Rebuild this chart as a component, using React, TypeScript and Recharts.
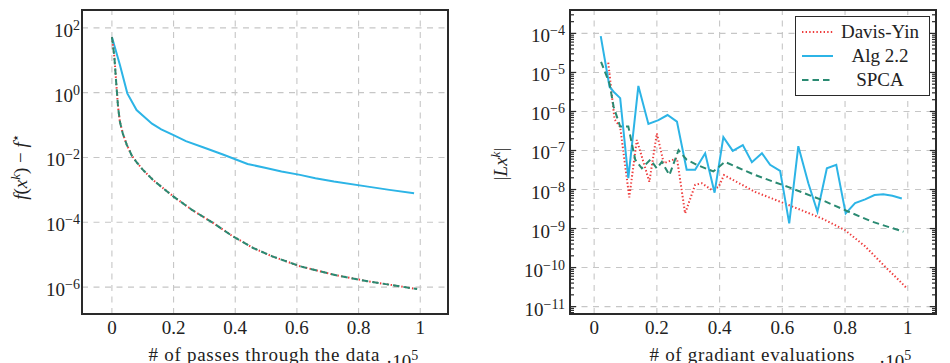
import { LineChart, Line, XAxis, YAxis, ReferenceLine, Legend } from 'recharts';

const FONT = '"Liberation Serif", "Times New Roman", serif';
const INK = '#222';
const RED = '#ee3b3b';
const CYAN = '#2cb4e6';
const TEAL = '#2a8a72';
const GRID = '#c6c6c6';
const FRAME = '#2a2a2a';
const DOTS = '1.4 2.2';
const DASHES = '6.5 4';

// objective gap f(x^k) - f* vs passes through the data (x in units of 1e5)
const passesAlg = [0, 0.026, 0.05, 0.08, 0.13, 0.16, 0.2, 0.24, 0.3, 0.36, 0.44, 0.5, 0.55, 0.61, 0.66, 0.72, 0.83, 0.9, 0.98];
const gapAlg = [52, 7.1, 0.95, 0.29, 0.11, 0.074, 0.049, 0.032, 0.02, 0.0123, 0.0063, 0.0047, 0.0037, 0.0029, 0.0023, 0.0018, 0.00126, 0.001, 0.00079];
const passesDY = [0, 0.008, 0.014, 0.02, 0.026, 0.035, 0.048, 0.065, 0.08, 0.1, 0.134, 0.17, 0.2, 0.26, 0.33, 0.39, 0.46, 0.52, 0.61, 0.72, 0.83, 0.99];
const gapDY = [52, 12.6, 2.0, 0.355, 0.126, 0.056, 0.025, 0.0112, 0.0072, 0.0042, 0.002, 0.00105, 6.2e-4, 2.4e-4, 9.3e-5, 3.8e-5, 1.58e-5, 8.9e-6, 4.4e-6, 2.4e-6, 1.51e-6, 8.7e-7];
const passesSPCA = [0, 0.008, 0.014, 0.02, 0.026, 0.035, 0.048, 0.065, 0.08, 0.1, 0.134, 0.17, 0.2, 0.26, 0.33, 0.39, 0.46, 0.52, 0.61, 0.72, 0.83, 0.99];
const gapSPCA = [52, 12.6, 2.0, 0.355, 0.126, 0.056, 0.025, 0.0112, 0.0072, 0.0042, 0.002, 0.00105, 6.2e-4, 2.4e-4, 9.3e-5, 3.8e-5, 1.58e-5, 8.9e-6, 4.4e-6, 2.4e-6, 1.51e-6, 8.7e-7];

// residual |Lx^k| vs gradient evaluations (x in units of 1e5)
const evalsAlg = [0.021, 0.049, 0.062, 0.083, 0.109, 0.141, 0.173, 0.205, 0.234, 0.264, 0.295, 0.322, 0.354, 0.384, 0.412, 0.442, 0.474, 0.503, 0.535, 0.561, 0.593, 0.622, 0.651, 0.683, 0.712, 0.742, 0.772, 0.802, 0.832, 0.864, 0.894, 0.922, 0.951, 0.981];
const residAlg = [8.5e-5, 4.3e-6, 3.2e-6, 2.2e-6, 1.95e-8, 4.5e-6, 4.8e-7, 6e-7, 8.1e-7, 5.5e-7, 3.2e-8, 3.2e-8, 8.5e-8, 8.3e-9, 2.2e-7, 9.8e-8, 1.38e-7, 5e-8, 8.5e-8, 4.3e-8, 3e-8, 1.35e-9, 1.29e-7, 1.45e-8, 2.7e-9, 3.5e-8, 4.3e-8, 2.45e-9, 4.5e-9, 5.6e-9, 7.2e-9, 7.6e-9, 6.9e-9, 5.9e-9];
const evalsDY = [0.045, 0.065, 0.083, 0.112, 0.136, 0.176, 0.2, 0.222, 0.264, 0.29, 0.322, 0.343, 0.375, 0.397, 0.414, 0.513, 0.62, 0.726, 0.8, 0.864, 0.928, 0.971, 0.997];
const residDY = [1.78e-5, 6.3e-7, 4e-7, 6.3e-9, 1.86e-7, 1.58e-8, 2.75e-7, 4.7e-8, 6.3e-8, 2.45e-9, 1.32e-8, 1.45e-8, 9.8e-9, 1.17e-8, 2.35e-8, 8.7e-9, 4e-9, 1.82e-9, 9.1e-10, 3.5e-10, 1.05e-10, 4.8e-11, 2.95e-11];
const evalsSPCA = [0.022, 0.049, 0.062, 0.083, 0.109, 0.131, 0.152, 0.179, 0.2, 0.216, 0.24, 0.269, 0.295, 0.327, 0.38, 0.417, 0.513, 0.62, 0.726, 0.8, 0.885, 0.986];
const residSPCA = [1.86e-5, 5.2e-6, 1.32e-6, 4.1e-7, 4.1e-7, 5.8e-8, 3.5e-8, 5.8e-8, 3.5e-8, 5.1e-8, 2.35e-8, 1.02e-7, 5.8e-8, 4.3e-8, 2.9e-8, 5.1e-8, 2.35e-8, 1.15e-8, 5.4e-9, 2.95e-9, 1.51e-9, 8.3e-10];

const X_TICKS = [0, 0.2, 0.4, 0.6, 0.8, 1];
const L_YTICKS = [1e2, 1, 1e-2, 1e-4, 1e-6];
const R_YTICKS = [1e-4, 1e-5, 1e-6, 1e-7, 1e-8, 1e-9, 1e-10, 1e-11];

const L_XDOM: [number, number] = [-0.097, 1.09];
const L_YDOM: [number, number] = [Math.pow(10, -6.83), Math.pow(10, 2.55)];
const R_XDOM: [number, number] = [-0.077, 1.09];
const R_YDOM: [number, number] = [Math.pow(10, -11.19), Math.pow(10, -3.4)];

// plot boxes (page pixels)
const PLOT_TOP = 10;
const PLOT_H = 304;
const BOXES = [
  { x: 82, w: 366 },
  { x: 570, w: 366 },
];

const zip = (xs: number[], ys: number[]) => xs.map((x, i) => ({ x, y: ys[i] }));

const LEGEND_ITEMS = [
  { name: 'Davis-Yin', color: RED, dash: DOTS },
  { name: 'Alg 2.2', color: CYAN, dash: undefined },
  { name: 'SPCA', color: TEAL, dash: DASHES },
];

const expOf = (v: number) => Math.round(Math.log10(v));

const Pow10 = ({ x, y, exp }: { x: number; y: number; exp: number }) => (
  <text x={x} y={y + 9} textAnchor="end" fontFamily={FONT} fontSize={19} fill={INK}>
    10<tspan dy={-7} fontSize={14}>{exp < 0 ? `\u2212${-exp}` : `${exp}`}</tspan>
  </text>
);

const XTick = (props: any) => (
  <text x={props.x} y={334} textAnchor="middle" fontFamily={FONT} fontSize={19} fill={INK}>
    {String(props.payload.value)}
  </text>
);

const LeftYTick = (props: any) => <Pow10 x={80} y={props.y} exp={expOf(props.payload.value)} />;
const RightYTick = (props: any) => <Pow10 x={90} y={props.y} exp={expOf(props.payload.value)} />;

// minor log tick values m * 10^n for the right panel
const R_MINOR: number[] = [];
for (let e = -12; e <= -4; e++) {
  for (let m = 2; m <= 9; m++) {
    const v = m * Math.pow(10, e);
    if (v > R_YDOM[0] && v < R_YDOM[1]) R_MINOR.push(v);
  }
}

const ScaleNote = ({ x }: { x: number }) => (
  <text x={x} y={368} fontFamily={FONT} fontSize={19} fill={INK}>
    ·10<tspan dy={-8} fontSize={14}>5</tspan>
  </text>
);

const leftXTitle = () => (
  <g>
    <text x={264} y={361} textAnchor="middle" fontFamily={FONT} fontSize={19} fill={INK} textLength={231} lengthAdjust="spacing">
      # of passes through the data
    </text>
    <ScaleNote x={386} />
  </g>
);

const leftYTitle = () => (
  <text transform="rotate(-90, 22, 167)" x={22} y={172} textAnchor="middle" fontFamily={FONT} fontSize={19} fill={INK}>
    <tspan fontStyle="italic">f</tspan>(<tspan fontStyle="italic">x</tspan>
    <tspan dy={-7} fontSize={13} fontStyle="italic">k</tspan>
    <tspan dy={7}>) − </tspan>
    <tspan fontStyle="italic">f</tspan>
    <tspan dy={-7} fontSize={13}>⋆</tspan>
  </text>
);

const rightXTitle = () => (
  <g>
    <text x={277} y={361} textAnchor="middle" fontFamily={FONT} fontSize={19} fill={INK} textLength={205} lengthAdjust="spacing">
      # of gradiant evaluations
    </text>
    <ScaleNote x={404} />
  </g>
);

const rightYTitle = () => (
  <text transform="rotate(-90, 27, 164)" x={27} y={169} textAnchor="middle" fontFamily={FONT} fontSize={19} fill={INK}>
    |<tspan fontStyle="italic">Lx</tspan>
    <tspan dy={-7} fontSize={13} fontStyle="italic">k</tspan>
    <tspan dy={7}>|</tspan>
  </text>
);

const LegendBox = () => (
  <div
    style={{
      width: 135,
      height: 80,
      boxSizing: 'border-box',
      border: `1.5px solid ${FRAME}`,
      background: '#fff',
      paddingTop: 3,
      fontFamily: FONT,
      fontSize: 19,
      color: INK,
    }}
  >
    {LEGEND_ITEMS.map((item) => (
      <div key={item.name} style={{ display: 'flex', alignItems: 'center', height: 24 }}>
        <svg width={40} height={10}>
          <line x1={6} x2={37} y1={5} y2={5} stroke={item.color} strokeWidth={2} strokeDasharray={item.dash} />
        </svg>
        <div style={{ width: 88, textAlign: 'center', lineHeight: '24px' }}>{item.name}</div>
      </div>
    ))}
  </div>
);

const gridLines = (xs: number[], ys: number[]) => [
  ...xs.map((v) => <ReferenceLine key={`gx${v}`} x={v} stroke={GRID} strokeWidth={1.1} strokeDasharray="6 5.5" />),
  ...ys.map((v) => <ReferenceLine key={`gy${v}`} y={v} stroke={GRID} strokeWidth={1.1} strokeDasharray="6 5.5" />),
];

// short marks on both inner edges of the right box at major and minor log ticks
const edgeTicks = (xDom: [number, number], major: number[], minor: number[]) => {
  const span = xDom[1] - xDom[0];
  const mk = (v: number, len: number, k: string) => [
    <ReferenceLine key={`l${k}`} segment={[{ x: xDom[0], y: v }, { x: xDom[0] + span * len, y: v }]} stroke={FRAME} strokeWidth={1.2} ifOverflow="visible" />,
    <ReferenceLine key={`r${k}`} segment={[{ x: xDom[1] - span * len, y: v }, { x: xDom[1], y: v }]} stroke={FRAME} strokeWidth={1.2} ifOverflow="visible" />,
  ];
  return [
    ...major.flatMap((v, i) => mk(v, 0.017, `M${i}`)),
    ...minor.flatMap((v, i) => mk(v, 0.011, `m${i}`)),
  ];
};

const App = () => {
  return (
    <div style={{ position: 'absolute', left: 0, top: 0, width: 950, height: 363, background: '#fff', overflow: 'hidden' }}>
      <div style={{ position: 'absolute', left: 0, top: 0, zIndex: 1 }}>
        <LineChart width={475} height={363} margin={{ top: 10, right: 27, bottom: 0, left: 0 }}>
          <XAxis
            dataKey="x"
            type="number"
            domain={L_XDOM}
            ticks={X_TICKS}
            interval={0}
            allowDataOverflow
            axisLine={false}
            tickLine={false}
            height={49}
            tick={<XTick />}
            label={leftXTitle}
          />
          <YAxis
            type="number"
            scale="log"
            domain={L_YDOM}
            ticks={L_YTICKS}
            interval={0}
            allowDataOverflow
            axisLine={false}
            tickLine={false}
            width={82}
            tick={<LeftYTick />}
            label={leftYTitle}
          />
          {gridLines(X_TICKS, L_YTICKS)}
          <Line data={zip(passesAlg, gapAlg)} dataKey="y" type="linear" stroke={CYAN} strokeWidth={2} dot={false} isAnimationActive={false} />
          <Line data={zip(passesDY, gapDY)} dataKey="y" type="linear" stroke={RED} strokeWidth={2} strokeDasharray={DOTS} dot={false} isAnimationActive={false} />
          <Line data={zip(passesSPCA, gapSPCA)} dataKey="y" type="linear" stroke={TEAL} strokeWidth={2} strokeDasharray={DASHES} dot={false} isAnimationActive={false} />
        </LineChart>
      </div>
      <div style={{ position: 'absolute', left: 475, top: 0, zIndex: 1 }}>
        <LineChart width={475} height={363} margin={{ top: 10, right: 14, bottom: 0, left: 0 }}>
          <XAxis
            dataKey="x"
            type="number"
            domain={R_XDOM}
            ticks={X_TICKS}
            interval={0}
            allowDataOverflow
            axisLine={false}
            tickLine={false}
            height={49}
            tick={<XTick />}
            label={rightXTitle}
          />
          <YAxis
            type="number"
            scale="log"
            domain={R_YDOM}
            ticks={R_YTICKS}
            interval={0}
            allowDataOverflow
            axisLine={false}
            tickLine={false}
            width={95}
            tick={<RightYTick />}
            label={rightYTitle}
          />
          {gridLines(X_TICKS, R_YTICKS)}
          {edgeTicks(R_XDOM, R_YTICKS, R_MINOR)}
          <Line name="Davis-Yin" data={zip(evalsDY, residDY)} dataKey="y" type="linear" stroke={RED} strokeWidth={2} strokeDasharray={DOTS} dot={false} isAnimationActive={false} />
          <Line name="Alg 2.2" data={zip(evalsAlg, residAlg)} dataKey="y" type="linear" stroke={CYAN} strokeWidth={2} dot={false} isAnimationActive={false} />
          <Line name="SPCA" data={zip(evalsSPCA, residSPCA)} dataKey="y" type="linear" stroke={TEAL} strokeWidth={2} strokeDasharray={DASHES} dot={false} isAnimationActive={false} />
          <Legend
            layout="vertical"
            align="center"
            verticalAlign="middle"
            content={<LegendBox />}
            wrapperStyle={{ left: 320, top: 16, width: 135, height: 80 }}
          />
        </LineChart>
      </div>
      {BOXES.map((b) => (
        <div
          key={b.x}
          style={{
            position: 'absolute',
            zIndex: 5,
            left: b.x - 1,
            top: PLOT_TOP - 1,
            width: b.w + 2,
            height: PLOT_H + 2,
            boxSizing: 'border-box',
            border: `2px solid ${FRAME}`,
            pointerEvents: 'none',
          }}
        />
      ))}
    </div>
  );
};

export default App;
